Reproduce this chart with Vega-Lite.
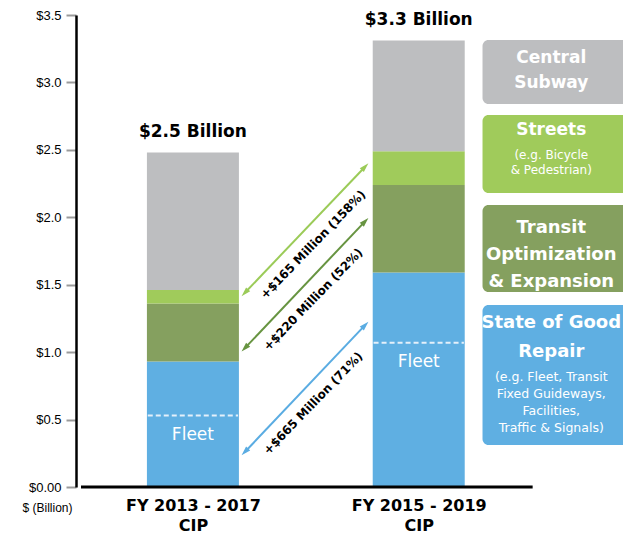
{
  "$schema": "https://vega.github.io/schema/vega-lite/v6.json",
  "width": 547,
  "height": 472,
  "autosize": {"type": "none"},
  "padding": {"left": 76, "top": 15, "right": 0, "bottom": 57},
  "background": "white",
  "config": {"view": {"stroke": null}, "font": "DejaVu Sans"},
  "datasets": {
    "segments": [
      {"period": "FY 2013 - 2017 CIP", "slot": 1, "category": "State of Good Repair", "value": 0.93},
      {"period": "FY 2013 - 2017 CIP", "slot": 1, "category": "Transit Optimization & Expansion", "value": 0.43},
      {"period": "FY 2013 - 2017 CIP", "slot": 1, "category": "Streets", "value": 0.10},
      {"period": "FY 2013 - 2017 CIP", "slot": 1, "category": "Central Subway", "value": 1.02},
      {"period": "FY 2015 - 2019 CIP", "slot": 3, "category": "State of Good Repair", "value": 1.59},
      {"period": "FY 2015 - 2019 CIP", "slot": 3, "category": "Transit Optimization & Expansion", "value": 0.65},
      {"period": "FY 2015 - 2019 CIP", "slot": 3, "category": "Streets", "value": 0.25},
      {"period": "FY 2015 - 2019 CIP", "slot": 3, "category": "Central Subway", "value": 0.82}
    ],
    "fleet": [
      {"period": "FY 2013 - 2017 CIP", "slot": 1, "fleet": 0.53},
      {"period": "FY 2015 - 2019 CIP", "slot": 3, "fleet": 1.07}
    ],
    "changes": [
      {"category": "Streets", "low": 1.44, "high": 2.375, "label": "+$165 Million (158%)"},
      {"category": "Transit Optimization & Expansion", "low": 1.03, "high": 1.97, "label": "+$220 Million (52%)"},
      {"category": "State of Good Repair", "low": 0.26, "high": 1.2, "label": "+$665 Million (71%)"}
    ]
  },
  "resolve": {"scale": {"color": "independent"}},
  "layer": [
    {
      "data": {"name": "segments"},
      "transform": [
        {"calculate": "indexof(['State of Good Repair','Transit Optimization & Expansion','Streets','Central Subway'], datum.category)", "as": "stackRank"}
      ],
      "mark": {"type": "bar", "width": 92},
      "encoding": {
        "x": {
          "field": "slot", "type": "quantitative",
          "scale": {"domain": [0.0087, 4.765], "nice": false, "zero": false},
          "axis": {
            "values": [1, 3],
            "labelExpr": "datum.value < 2 ? ['FY 2013 - 2017', 'CIP'] : ['FY 2015 - 2019', 'CIP']",
            "domain": false, "ticks": false, "grid": false, "title": null,
            "labelFont": "DejaVu Sans", "labelFontSize": 16, "labelFontWeight": "bold",
            "labelColor": "black", "labelPadding": 10, "labelBaseline": "top",
            "labelLineHeight": 20, "labelFlush": false, "labelOverlap": false
          }
        },
        "y": {
          "field": "value", "type": "quantitative",
          "scale": {"domain": [0, 3.5], "nice": false},
          "axis": {
            "values": [0, 0.5, 1, 1.5, 2, 2.5, 3, 3.5],
            "labelExpr": "datum.value === 0 ? '$0.00' : '$' + format(datum.value, '.1f')",
            "domainColor": "black", "domainWidth": 2.5,
            "tickColor": "#9a9a9a", "tickWidth": 2, "tickSize": 10,
            "labelPadding": 5, "labelFont": "Liberation Sans", "labelFontSize": 13,
            "labelColor": "black", "grid": false, "labelFlush": false,
            "title": "$ (Billion)", "titleAngle": 0, "titleX": -29, "titleY": 492,
            "titleAlign": "center", "titleBaseline": "middle",
            "titleFont": "Liberation Sans", "titleFontSize": 12, "titleFontWeight": "normal", "titleColor": "black"
          }
        },
        "order": {"field": "stackRank", "type": "quantitative"},
        "color": {
          "field": "category", "type": "nominal",
          "scale": {
            "domain": ["State of Good Repair", "Transit Optimization & Expansion", "Streets", "Central Subway"],
            "range": ["#5FAFE2", "#85A05F", "#A0CB5B", "#BDBEC0"]
          },
          "legend": null
        }
      }
    },
    {
      "data": {"name": "fleet"},
      "transform": [
        {"calculate": "datum.slot - 0.4", "as": "lo"},
        {"calculate": "datum.slot + 0.4", "as": "hi"}
      ],
      "mark": {"type": "rule", "color": "#E4F0FA", "strokeWidth": 2, "strokeDash": [5, 3]},
      "encoding": {
        "x": {"field": "lo", "type": "quantitative"},
        "x2": {"field": "hi"},
        "y": {"field": "fleet", "type": "quantitative"}
      }
    },
    {
      "data": {"name": "fleet"},
      "mark": {"type": "text", "text": "Fleet", "color": "white", "fontSize": 17, "dy": 19, "baseline": "middle", "align": "center"},
      "encoding": {
        "x": {"field": "slot", "type": "quantitative"},
        "y": {"field": "fleet", "type": "quantitative"}
      }
    },
    {
      "data": {"name": "segments"},
      "transform": [
        {"aggregate": [{"op": "sum", "field": "value", "as": "total"}], "groupby": ["slot"]},
        {"calculate": "'$' + format(datum.total, '.1f') + ' Billion'", "as": "totalLabel"}
      ],
      "mark": {"type": "text", "fontSize": 17, "fontWeight": "bold", "color": "black", "dy": -21, "baseline": "middle", "align": "center"},
      "encoding": {
        "x": {"field": "slot", "type": "quantitative"},
        "y": {"field": "total", "type": "quantitative"},
        "text": {"field": "totalLabel"}
      }
    },
    {
      "data": {"name": "changes"},
      "layer": [
        {
          "mark": {"type": "rule", "strokeWidth": 2},
          "encoding": {
            "x": {"datum": 1.46}, "x2": {"datum": 2.525},
            "y": {"field": "low", "type": "quantitative"}, "y2": {"field": "high"},
            "color": {"field": "category", "type": "nominal", "scale": {"domain": ["State of Good Repair", "Transit Optimization & Expansion", "Streets"], "range": ["#5AACE2", "#679441", "#9BCB58"]}, "legend": null}
          }
        },
        {
          "mark": {"type": "point", "filled": true, "opacity": 1, "shape": "M0,-1L0.6,1L-0.6,1Z", "size": 90, "angle": 224},
          "encoding": {
            "x": {"datum": 1.46},
            "y": {"field": "low", "type": "quantitative"},
            "color": {"field": "category", "type": "nominal", "legend": null}
          }
        },
        {
          "mark": {"type": "point", "filled": true, "opacity": 1, "shape": "M0,-1L0.6,1L-0.6,1Z", "size": 90, "angle": 44},
          "encoding": {
            "x": {"datum": 2.525},
            "y": {"field": "high", "type": "quantitative"},
            "color": {"field": "category", "type": "nominal", "legend": null}
          }
        },
        {
          "transform": [{"calculate": "(datum.low + datum.high) / 2", "as": "mid"}],
          "mark": {"type": "text", "angle": 314, "dy": 16, "dx": -5, "fontSize": 12, "fontWeight": "bold", "color": "black", "align": "center", "baseline": "middle"},
          "encoding": {
            "x": {"datum": 1.9925},
            "y": {"field": "mid", "type": "quantitative"},
            "text": {"field": "label"}
          }
        }
      ]
    },
    {
      "data": {"values": [{}]},
      "mark": {"type": "rect", "color": "#BDBEC0", "cornerRadius": 6, "clip": true},
      "encoding": {"x": {"datum": 3.565}, "x2": {"datum": 5}, "y": {"datum": 3.315}, "y2": {"datum": 2.84}}
    },
    {
      "data": {"values": [{}]},
      "mark": {"type": "rect", "color": "#A0CB5B", "cornerRadius": 6, "clip": true},
      "encoding": {"x": {"datum": 3.565}, "x2": {"datum": 5}, "y": {"datum": 2.758}, "y2": {"datum": 2.18}}
    },
    {
      "data": {"values": [{}]},
      "mark": {"type": "rect", "color": "#85A05F", "cornerRadius": 6, "clip": true},
      "encoding": {"x": {"datum": 3.565}, "x2": {"datum": 5}, "y": {"datum": 2.091}, "y2": {"datum": 1.446}}
    },
    {
      "data": {"values": [{}]},
      "mark": {"type": "rect", "color": "#5FAFE2", "cornerRadius": 6, "clip": true},
      "encoding": {"x": {"datum": 3.565}, "x2": {"datum": 5}, "y": {"datum": 1.35}, "y2": {"datum": 0.311}}
    },
    {
      "data": {"values": [{}]},
      "mark": {"type": "text", "text": ["Central", "Subway"], "color": "white", "fontSize": 17, "fontWeight": "bold", "lineHeight": 25, "align": "center", "baseline": "middle"},
      "encoding": {"x": {"datum": 4.174}, "y": {"datum": 3.181}}
    },
    {
      "data": {"values": [{}]},
      "mark": {"type": "text", "text": "Streets", "color": "white", "fontSize": 17, "fontWeight": "bold", "align": "center", "baseline": "middle"},
      "encoding": {"x": {"datum": 4.174}, "y": {"datum": 2.647}}
    },
    {
      "data": {"values": [{}]},
      "mark": {"type": "text", "text": ["(e.g. Bicycle", "& Pedestrian)"], "color": "white", "fontSize": 12, "lineHeight": 15, "align": "center", "baseline": "middle"},
      "encoding": {"x": {"datum": 4.174}, "y": {"datum": 2.462}}
    },
    {
      "data": {"values": [{}]},
      "mark": {"type": "text", "text": ["Transit", "Optimization", "& Expansion"], "color": "white", "fontSize": 18, "fontWeight": "bold", "lineHeight": 27, "align": "center", "baseline": "middle"},
      "encoding": {"x": {"datum": 4.174}, "y": {"datum": 1.921}}
    },
    {
      "data": {"values": [{}]},
      "mark": {"type": "text", "text": ["State of Good", "Repair"], "color": "white", "fontSize": 18, "fontWeight": "bold", "lineHeight": 29, "align": "center", "baseline": "middle"},
      "encoding": {"x": {"datum": 4.174}, "y": {"datum": 1.216}}
    },
    {
      "data": {"values": [{}]},
      "mark": {"type": "text", "text": ["(e.g. Fleet, Transit", "Fixed Guideways,", "Facilities,", "Traffic & Signals)"], "color": "white", "fontSize": 12.5, "lineHeight": 17, "align": "center", "baseline": "middle"},
      "encoding": {"x": {"datum": 4.174}, "y": {"datum": 0.816}}
    },
    {
      "data": {"values": [{}]},
      "mark": {"type": "rule", "color": "black", "strokeWidth": 3},
      "encoding": {"x": {"datum": 0.0087}, "x2": {"datum": 4.009}, "y": {"datum": 0}}
    }
  ]
}
